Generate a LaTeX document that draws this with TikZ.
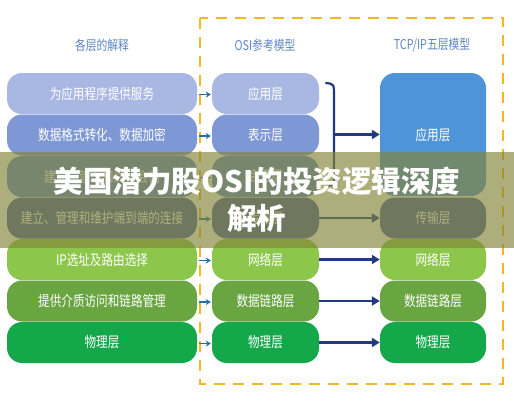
\documentclass[tikz,border=0pt]{standalone}
\usepackage{fontspec}
\usepackage{graphicx}
\newfontfamily\cjk{Noto Sans CJK SC}
\usetikzlibrary{arrows.meta}
\definecolor{rA}{RGB}{168,184,226}
\definecolor{rB}{RGB}{125,152,212}
\definecolor{rC}{RGB}{100,138,215}
\definecolor{rD}{RGB}{72,100,168}
\definecolor{rE}{RGB}{140,198,75}
\definecolor{rF}{RGB}{105,165,65}
\definecolor{rG}{RGB}{20,168,75}
\definecolor{rBig}{RGB}{78,148,214}
\definecolor{hdr}{RGB}{95,135,195}
\definecolor{dashy}{RGB}{240,185,35}
\definecolor{navy}{RGB}{35,58,130}
\definecolor{teal}{RGB}{30,115,165}
\definecolor{band}{RGB}{132,132,55}
\newcommand{\squeez}[1]{\scalebox{0.8}[1]{#1}}
\tikzset{
  layerbox/.style={rounded corners=15pt, minimum height=41pt, inner sep=0pt,
    text=white, font=\cjk\fontsize{14.5}{16}\selectfont},
  leftbox/.style={layerbox, minimum width=190pt},
  midbox/.style={layerbox, minimum width=107pt},
  rightbox/.style={layerbox, minimum width=106pt},
  header/.style={text=hdr, font=\cjk\fontsize{13.5}{15}\selectfont, inner sep=0pt},
  smallarrow/.style={draw=teal, line width=1.5pt, -{Stealth[length=5pt,width=6pt]}, shorten <=1.5pt, shorten >=1pt},
  bigarrow/.style={draw=navy, line width=2.3pt, -{Triangle[length=8pt,width=9pt]}},
}
\begin{document}
\begin{tikzpicture}[x=1pt,y=-1pt]
\useasboundingbox (0,0) rectangle (514,400);
\fill[white] (0,0) rectangle (514,400);
% headers
\node[header] (h1) at (102,45) {\squeez{各层的解释}};
\node[header] (h2) at (265,45) {\squeez{OSI参考模型}};
\node[header] (h3) at (432,45) {\squeez{TCP/IP五层模型}};
% dashed frame
\draw[dashy, line width=2.8pt, dash pattern=on 11pt off 8pt] (200,18) rectangle (503,384);
% left column
\node[leftbox, fill=rA] (l1) at (102,93.5) {\squeez{为应用程序提供服务}};
\node[leftbox, fill=rB] (l2) at (102,135) {\squeez{数据格式转化、数据加密}};
\node[leftbox, fill=rC] (l3) at (102,176.5) {\squeez{建立、管理和终止会话}};
\node[leftbox, fill=rD] (l4) at (102,218) {\squeez{建立、管理和维护端到端的连接}};
\node[leftbox, fill=rE] (l5) at (102,259.5) {\squeez{IP选址及路由选择}};
\node[leftbox, fill=rF] (l6) at (102,301) {\squeez{提供介质访问和链路管理}};
\node[leftbox, fill=rG] (l7) at (102,342.5) {\squeez{物理层}};
% middle column
\node[midbox, fill=rA] (m1) at (265.5,93.5) {\squeez{应用层}};
\node[midbox, fill=rB] (m2) at (265.5,135) {\squeez{表示层}};
\node[midbox, fill=rC] (m3) at (265.5,176.5) {\squeez{会话层}};
\node[midbox, fill=rD] (m4) at (265.5,218) {\squeez{传输层}};
\node[midbox, fill=rE] (m5) at (265.5,259.5) {\squeez{网络层}};
\node[midbox, fill=rF] (m6) at (265.5,301) {\squeez{数据链路层}};
\node[midbox, fill=rG] (m7) at (265.5,342.5) {\squeez{物理层}};
% right column
\node[rightbox, fill=rBig, minimum height=123pt] (r1) at (433,134.5) {\squeez{应用层}};
\node[rightbox, fill=rD] (r4) at (433,218) {\squeez{传输层}};
\node[rightbox, fill=rE] (r5) at (433,259.5) {\squeez{网络层}};
\node[rightbox, fill=rF] (r6) at (433,301) {\squeez{数据链路层}};
\node[rightbox, fill=rG] (r7) at (433,342.5) {\squeez{物理层}};
% left -> middle arrows
\foreach \i in {1,...,7} {
  \draw[smallarrow] ([yshift=-1pt]l\i.east) -- ([yshift=-1pt]m\i.west);
}
% bracket
\coordinate (bt) at (326,83);
\coordinate (bb) at (326,186);
\coordinate (bm) at (334,134.5);
\draw[navy, line width=2.2pt, line cap=round] (bt) .. controls (334,84) .. (334,96) -- (334,174) .. controls (334,185) .. (bb);
\draw[bigarrow] (bm) -- (r1.west);
% middle -> right arrows
\foreach \i in {4,...,7} {
  \draw[bigarrow] (m\i.east) -- (r\i.west);
}
% banner
\fill[band, fill opacity=0.65] (0,152) rectangle (514,248);
\node[text=white, font=\cjk\bfseries\fontsize{29.5}{37}\selectfont, align=center, inner sep=0pt] (title) at (257,200)
  {美国潜力股OSI的投资逻辑深度\\解析};
\end{tikzpicture}
\end{document}
